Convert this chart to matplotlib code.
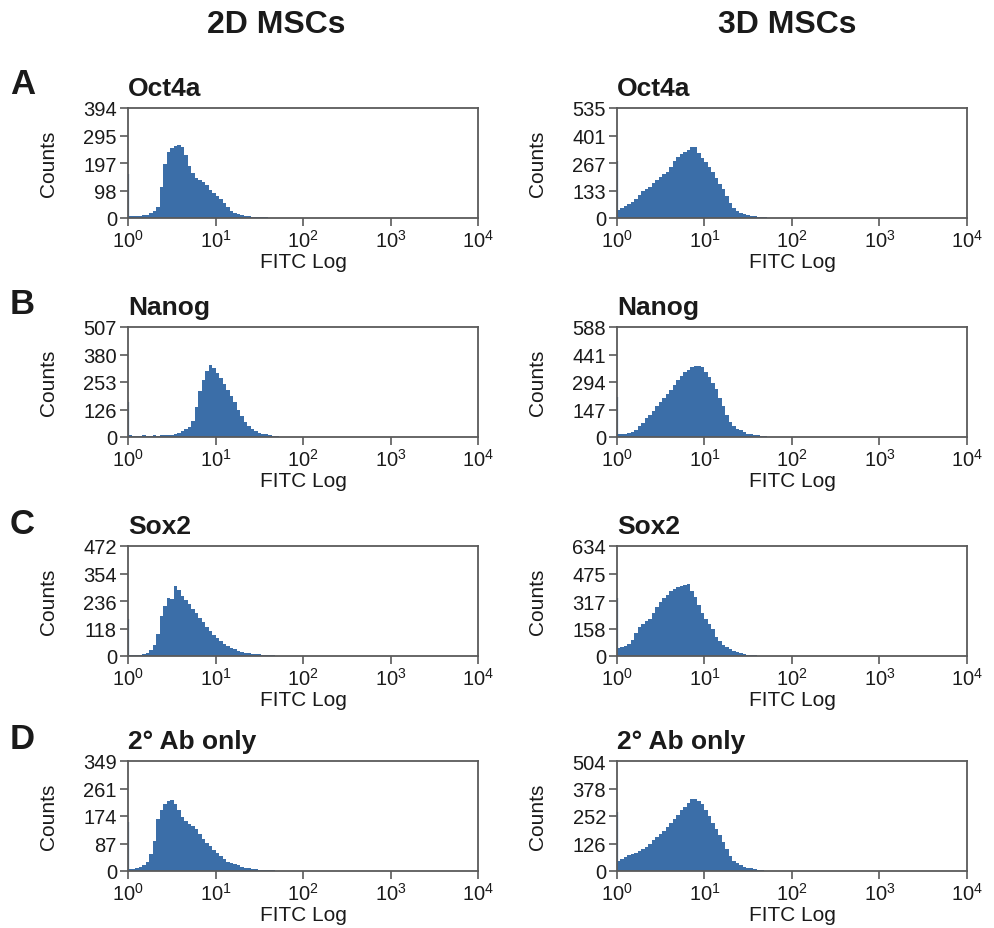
import matplotlib
matplotlib.use("Agg")
import matplotlib.pyplot as plt
import numpy as np

plt.rcParams['font.family'] = ['Liberation Sans', 'DejaVu Sans']
plt.rcParams['mathtext.fontset'] = 'custom'
plt.rcParams['mathtext.rm'] = 'Liberation Sans'

# bin width in decades (FITC log axis), counts
BIN_DEC = 0.04

oct4a_2d = [6, 7, 6, 8, 9, 12, 18, 25, 40, 110, 195, 235, 250, 258, 262, 255,
            225, 185, 160, 142, 135, 128, 118, 100, 88, 80, 68, 52, 38, 26, 18,
            14, 10, 8, 6, 5, 4, 3, 2, 2, 1, 1, 1, 0.5, 0.5, 0.3]
oct4a_3d = [38, 50, 58, 68, 78, 92, 110, 130, 142, 152, 170, 185, 200, 212, 225,
            248, 275, 295, 310, 322, 332, 345, 345, 318, 292, 270, 250, 225, 195,
            165, 140, 105, 72, 50, 34, 25, 20, 14, 11, 8, 6, 4, 3, 2, 1]
nanog_2d = [7, 6, 6, 5, 7, 6, 6, 7, 6, 7, 8, 9, 10, 14, 20, 28, 35, 45, 75, 140,
            210, 265, 305, 330, 318, 295, 270, 245, 218, 190, 160, 125, 95, 70,
            52, 38, 28, 20, 16, 12, 9, 6, 4, 2, 1, 0.5]
nanog_3d = [14, 15, 17, 20, 27, 40, 58, 75, 100, 118, 140, 165, 185, 210, 232,
            252, 280, 305, 325, 345, 360, 375, 382, 378, 375, 350, 320, 290, 255,
            210, 165, 120, 82, 58, 45, 36, 26, 18, 15, 13, 9, 6, 4, 2, 1]
sox2_2d = [5, 5, 4, 6, 8, 12, 26, 48, 95, 170, 215, 250, 245, 300, 285, 258,
           242, 222, 200, 183, 162, 145, 125, 108, 92, 78, 64, 52, 44, 36, 28,
           22, 17, 14, 12, 10, 9, 7, 6, 5, 4, 3, 2, 1.5, 1]
sox2_3d = [45, 50, 55, 68, 90, 130, 165, 185, 200, 215, 250, 280, 310, 332, 352,
           372, 388, 395, 402, 410, 415, 375, 340, 295, 250, 215, 185, 155, 110,
           85, 65, 50, 38, 28, 22, 16, 12, 8, 6, 4, 2, 1, 0.5]
ab_2d = [6, 7, 8, 12, 18, 30, 55, 95, 165, 195, 212, 222, 225, 212, 192, 172,
         158, 148, 142, 132, 118, 100, 88, 78, 68, 58, 48, 38, 30, 25, 21, 18,
         14, 10, 8, 6, 5, 4, 3, 3, 2, 2, 1, 1, 0.5]
ab_3d = [48, 55, 65, 75, 80, 84, 92, 100, 112, 125, 142, 155, 170, 182, 200, 218,
         238, 258, 278, 295, 312, 330, 332, 320, 305, 280, 250, 220, 192, 165,
         135, 100, 70, 48, 36, 28, 20, 15, 12, 9, 6, 4, 2, 1]

# first-channel pile-up at 10^0
spikes = [[158, 275], [163, 213], [160, 336], [157, 269]]

ymax = [[394, 535], [507, 588], [472, 634], [349, 504]]
ylabels = [[["0", "98", "197", "295", "394"], ["0", "133", "267", "401", "535"]],
           [["0", "126", "253", "380", "507"], ["0", "147", "294", "441", "588"]],
           [["0", "118", "236", "354", "472"], ["0", "158", "317", "475", "634"]],
           [["0", "87", "174", "261", "349"], ["0", "126", "252", "378", "504"]]]

data = [[oct4a_2d, oct4a_3d], [nanog_2d, nanog_3d],
        [sox2_2d, sox2_3d], [ab_2d, ab_3d]]
markers = ["Oct4a", "Nanog", "Sox2", "2° Ab only"]
letters = ["A", "B", "C", "D"]
columns = ["2D MSCs", "3D MSCs"]

BLUE = "#3b6ea8"
FRAME = "#5a5a5a"
TXT = "#1a1a1a"

W, H = 995, 929
fig = plt.figure(figsize=(W / 100, H / 100), dpi=100)

col_left = [128, 617]
row_top = [109, 328, 547, 762]
letter_y = [85, 304, 524, 740]
ax_w, ax_h = 350, 110

for r in range(4):
    for c in range(2):
        ax = fig.add_axes([col_left[c] / W, 1 - (row_top[r] + ax_h) / H, ax_w / W, ax_h / H])
        counts = np.array(data[r][c], dtype=float)
        edges = 10 ** (np.arange(len(counts) + 1) * BIN_DEC)
        ax.stairs(counts, edges, fill=True, color=BLUE, lw=0)
        ax.vlines(10 ** 0.004, 0, spikes[r][c], color=BLUE, lw=1.6)

        ax.set_xscale('log')
        ax.set_xlim(1, 1e4)
        ax.set_ylim(0, ymax[r][c])
        ax.set_xticks([1, 10, 100, 1000, 10000])
        ax.minorticks_off()
        ax.set_yticks(np.linspace(0, ymax[r][c], 5))
        ax.set_yticklabels(ylabels[r][c])
        ax.tick_params(direction='out', length=6, width=1.2, color=FRAME,
                       labelsize=14.5, pad=2, labelcolor=TXT)
        for s in ax.spines.values():
            s.set_color(FRAME)
            s.set_linewidth(1.3)

        ax.set_ylabel("Counts", fontsize=15, color=TXT)
        ax.yaxis.set_label_coords(-0.2, 0.5)
        ax.set_xlabel("FITC Log", fontsize=15, color=TXT)
        ax.xaxis.set_label_coords(0.5, -0.31)

        ax.text(0.0, 1.115, markers[r], transform=ax.transAxes, fontsize=19,
                fontweight='bold', ha='left', va='baseline', color=TXT)

    fig.text(10 / W, 1 - letter_y[r] / H, letters[r], fontsize=25,
             fontweight='bold', va='center', ha='left', color=TXT)

for c, x in enumerate([276, 787]):
    fig.text(x / W, 1 - 25 / H, columns[c], fontsize=23, fontweight='bold',
             ha='center', va='center', color=TXT)

fig.savefig("out.png", dpi=100)
